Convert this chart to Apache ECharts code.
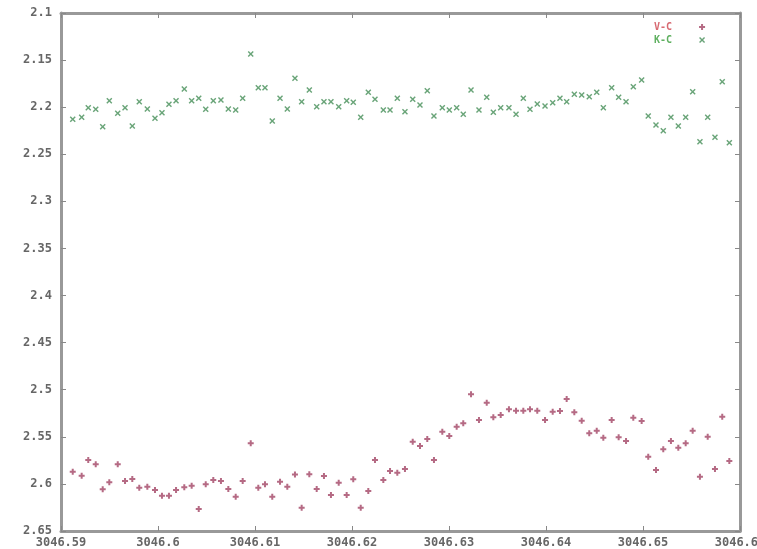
<!DOCTYPE html>
<html>
<head>
<meta charset="utf-8">
<script src="https://cdn.jsdelivr.net/npm/echarts@6/dist/echarts.min.js"></script>
<style>html,body{margin:0;padding:0;background:#fff}#c{width:757px;height:549px}</style>
</head>
<body>
<div id="c"></div>
<script>
const times = [3046.59121,3046.59213,3046.59281,3046.59358,3046.59430,3046.59498,3046.59585,3046.59660,3046.59735,3046.59807,
3046.59890,3046.59969,3046.60041,3046.60113,3046.60186,3046.60271,3046.60347,3046.60420,3046.60492,3046.60570,
3046.60649,3046.60725,3046.60801,3046.60873,3046.60956,3046.61034,3046.61103,3046.61178,3046.61258,3046.61333,
3046.61412,3046.61481,3046.61560,3046.61636,3046.61711,3046.61783,3046.61863,3046.61945,3046.62013,3046.62090,
3046.62168,3046.62237,3046.62323,3046.62392,3046.62467,3046.62546,3046.62626,3046.62701,3046.62776,3046.62845,
3046.62931,3046.63003,3046.63079,3046.63147,3046.63227,3046.63309,3046.63389,3046.63457,3046.63533,3046.63618,
3046.63691,3046.63766,3046.63835,3046.63910,3046.63990,3046.64069,3046.64144,3046.64213,3046.64292,3046.64368,
3046.64446,3046.64523,3046.64591,3046.64677,3046.64749,3046.64825,3046.64900,3046.64986,3046.65054,3046.65134,
3046.65209,3046.65288,3046.65364,3046.65440,3046.65512,3046.65587,3046.65667,3046.65742,3046.65817,3046.65890];

const vc = [2.5870,2.5913,2.5746,2.5792,2.6057,2.5983,2.5792,2.5969,2.5948,2.6040,
2.6030,2.6065,2.6125,2.6125,2.6065,2.6036,2.6019,2.6267,2.6004,2.5959,
2.5969,2.6054,2.6136,2.5969,2.5569,2.6040,2.6004,2.6136,2.5976,2.6030,
2.5900,2.6252,2.5898,2.6054,2.5916,2.6118,2.5987,2.6118,2.5951,2.6252,
2.6075,2.5746,2.5959,2.5863,2.5881,2.5842,2.5552,2.5598,2.5523,2.5746,
2.5446,2.5491,2.5393,2.5357,2.5049,2.5322,2.5138,2.5293,2.5268,2.5208,
2.5223,2.5223,2.5208,2.5223,2.5322,2.5233,2.5226,2.5098,2.5240,2.5329,
2.5463,2.5435,2.5509,2.5322,2.5505,2.5545,2.5297,2.5332,2.5711,2.5852,
2.5633,2.5545,2.5616,2.5569,2.5435,2.5923,2.5499,2.5842,2.5286,2.5757];

const kc = [2.2129,2.2108,2.2005,2.2023,2.2207,2.1931,2.2065,2.2005,2.2200,2.1942,
2.2019,2.2118,2.2059,2.1969,2.1931,2.1807,2.1931,2.1906,2.2023,2.1931,
2.1924,2.2019,2.2030,2.1906,2.1435,2.1793,2.1793,2.2147,2.1906,2.2019,
2.1693,2.1942,2.1818,2.1995,2.1942,2.1942,2.1995,2.1931,2.1948,2.2108,
2.1842,2.1916,2.2030,2.2030,2.1906,2.2048,2.1916,2.1977,2.1825,2.2094,
2.2005,2.2030,2.2005,2.2076,2.1818,2.2030,2.1895,2.2054,2.2005,2.2005,
2.2076,2.1906,2.2023,2.1966,2.1987,2.1952,2.1906,2.1942,2.1863,2.1871,
2.1889,2.1842,2.2005,2.1793,2.1895,2.1942,2.1782,2.1711,2.2094,2.2189,
2.2250,2.2108,2.2200,2.2108,2.1835,2.2366,2.2108,2.2320,2.1729,2.2377];

const seriesNames = ['V-C', 'K-C'];
const xMin = 3046.59, xMax = 3046.66, xStep = 0.01;
const yMin = 2.1, yMax = 2.65, yStep = 0.05;

const plus = 'path://M2,0H4V2H6V4H4V6H2V4H0V2H2Z';
const cross = 'path://M1,0L3,2L5,0L6,1L4,3L6,5L5,6L3,4L1,6L0,5L2,3L0,1Z';
const fmt = v => String(parseFloat(v.toFixed(2)));
const labelStyle = {fontFamily: 'DejaVu Sans Mono', fontSize: 12, fontWeight: 'bold', color: '#666'};
const border = {show: true, lineStyle: {color: '#999', width: 3}};
const tick = {show: true, inside: true, length: 5, lineStyle: {color: '#888', width: 1}};

const chart = echarts.init(document.getElementById('c'), null, {renderer: 'canvas'});
chart.setOption({
  animation: false,
  backgroundColor: '#fff',
  grid: {left: 61, right: 17, top: 13, bottom: 18, containLabel: false, outerBoundsMode: 'none'},
  legend: {
    orient: 'vertical', left: 649, top: 16, align: 'right',
    itemWidth: 6, itemHeight: 6, itemGap: 1,
    data: [
      {name: seriesNames[0], icon: plus, textStyle: {color: '#d86a72'}},
      {name: seriesNames[1], icon: cross, textStyle: {color: '#5fb060'}}
    ],
    textStyle: {fontFamily: 'DejaVu Sans Mono', fontSize: 10, fontWeight: 'bold', lineHeight: 12, padding: [0, 22, 0, 0]}
  },
  xAxis: [
    {type: 'value', min: xMin, max: xMax, interval: xStep, position: 'bottom',
     axisLine: border, axisTick: tick, splitLine: {show: false},
     axisLabel: Object.assign({formatter: fmt, margin: 6, showMaxLabel: true, showMinLabel: true,
       alignMinLabel: 'center', alignMaxLabel: 'center'}, labelStyle)},
    {type: 'value', min: xMin, max: xMax, interval: xStep, position: 'top',
     axisLine: border, axisTick: tick, splitLine: {show: false}, axisLabel: {show: false}}
  ],
  yAxis: [
    {type: 'value', inverse: true, min: yMin, max: yMax, interval: yStep, position: 'left',
     axisLine: border, axisTick: tick, splitLine: {show: false},
     axisLabel: Object.assign({formatter: fmt, margin: 9}, labelStyle)},
    {type: 'value', inverse: true, min: yMin, max: yMax, interval: yStep, position: 'right',
     axisLine: border, axisTick: tick, splitLine: {show: false}, axisLabel: {show: false}}
  ],
  series: [
    {name: seriesNames[0], type: 'scatter', xAxisIndex: 0, yAxisIndex: 0,
     symbol: plus, symbolSize: 6, itemStyle: {color: '#a8506e', opacity: 0.85},
     data: times.map((t, i) => [t, vc[i]])},
    {name: seriesNames[1], type: 'scatter', xAxisIndex: 0, yAxisIndex: 0,
     symbol: cross, symbolSize: 6, itemStyle: {color: '#4f9460', opacity: 0.85},
     data: times.map((t, i) => [t, kc[i]])}
  ]
});
</script>
</body>
</html>
